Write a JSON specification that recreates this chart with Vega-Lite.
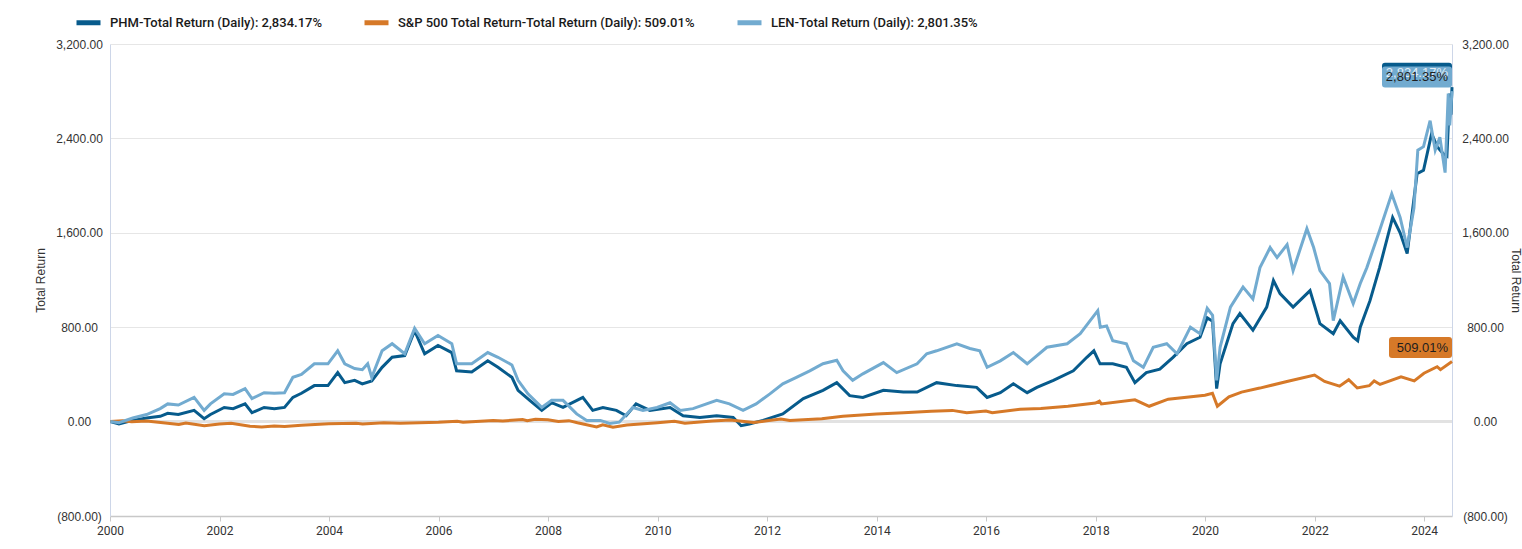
{
  "$schema": "https://vega.github.io/schema/vega-lite/v6.json",
  "width": 1342,
  "height": 472,
  "autosize": {"type": "none"},
  "padding": {"left": 110, "top": 44, "right": 70, "bottom": 33},
  "background": "white",
  "config": {
    "view": {"stroke": null},
    "font": "Roboto",
    "axis": {"labelColor": "#333333", "titleColor": "#333333", "labelFontSize": 12, "titleFontSize": 12, "titleFontWeight": "normal"},
    "axisX": {"format": "%Y", "tickCount": {"interval": "year", "step": 2}, "grid": false, "domainColor": "#c8c8c8", "domainWidth": 1.5, "tickColor": "#c8c8c8", "tickSize": 5, "labelPadding": 4, "labelFlush": false, "title": null}
  },
  "datasets": {
    "phm": [
      {"d":"2000-01-03","v":0},{"d":"2000-03-01","v":-20},{"d":"2000-06-01","v":10},{"d":"2000-09-01","v":30},{"d":"2000-12-01","v":45},
      {"d":"2001-01-20","v":70},{"d":"2001-04-01","v":60},{"d":"2001-07-15","v":95},{"d":"2001-09-20","v":25},{"d":"2001-11-01","v":60},
      {"d":"2002-02-01","v":120},{"d":"2002-04-01","v":110},{"d":"2002-06-20","v":150},{"d":"2002-08-05","v":75},{"d":"2002-10-25","v":120},
      {"d":"2003-01-01","v":110},{"d":"2003-03-10","v":120},{"d":"2003-05-05","v":205},{"d":"2003-07-01","v":240},{"d":"2003-09-25","v":305},{"d":"2003-12-25","v":305},
      {"d":"2004-02-28","v":415},{"d":"2004-04-15","v":330},{"d":"2004-06-20","v":350},{"d":"2004-08-10","v":320},{"d":"2004-10-12","v":345},{"d":"2004-12-20","v":460},
      {"d":"2005-02-25","v":545},{"d":"2005-05-20","v":560},{"d":"2005-07-25","v":770},{"d":"2005-09-30","v":575},{"d":"2005-12-28","v":645},
      {"d":"2006-03-30","v":585},{"d":"2006-05-01","v":430},{"d":"2006-08-10","v":420},{"d":"2006-11-25","v":515},
      {"d":"2007-02-01","v":460},{"d":"2007-05-05","v":375},{"d":"2007-06-15","v":265},{"d":"2007-09-01","v":180},{"d":"2007-11-20","v":95},
      {"d":"2008-01-25","v":160},{"d":"2008-04-10","v":120},{"d":"2008-08-20","v":205},{"d":"2008-10-25","v":95},
      {"d":"2009-01-01","v":120},{"d":"2009-04-01","v":95},{"d":"2009-06-05","v":50},{"d":"2009-08-10","v":150},{"d":"2009-11-10","v":95},
      {"d":"2010-03-25","v":120},{"d":"2010-06-20","v":50},{"d":"2010-10-10","v":35},
      {"d":"2011-01-30","v":50},{"d":"2011-05-20","v":35},{"d":"2011-07-12","v":-35},{"d":"2011-09-05","v":-20},{"d":"2011-12-05","v":10},
      {"d":"2012-04-15","v":65},{"d":"2012-08-30","v":195},
      {"d":"2013-01-08","v":265},{"d":"2013-04-10","v":330},{"d":"2013-07-05","v":220},{"d":"2013-10-01","v":205},
      {"d":"2014-02-15","v":265},{"d":"2014-06-28","v":250},{"d":"2014-09-28","v":250},
      {"d":"2015-02-05","v":330},{"d":"2015-06-20","v":305},{"d":"2015-10-30","v":290},
      {"d":"2016-01-08","v":205},{"d":"2016-04-05","v":245},{"d":"2016-07-01","v":320},{"d":"2016-10-01","v":245},{"d":"2016-12-05","v":290},
      {"d":"2017-03-25","v":350},{"d":"2017-08-05","v":430},{"d":"2017-11-03","v":545},{"d":"2017-12-20","v":600},
      {"d":"2018-01-30","v":490},{"d":"2018-04-25","v":490},{"d":"2018-07-25","v":460},{"d":"2018-09-20","v":330},{"d":"2018-12-05","v":415},
      {"d":"2019-03-05","v":445},{"d":"2019-06-01","v":545},{"d":"2019-09-01","v":660},{"d":"2019-11-28","v":715},
      {"d":"2020-01-15","v":880},{"d":"2020-02-20","v":850},{"d":"2020-03-18","v":280},{"d":"2020-04-10","v":490},{"d":"2020-07-05","v":830},{"d":"2020-08-20","v":915},{"d":"2020-11-15","v":775},
      {"d":"2021-02-15","v":970},{"d":"2021-04-01","v":1195},{"d":"2021-05-15","v":1085},{"d":"2021-08-10","v":970},{"d":"2021-12-01","v":1110},
      {"d":"2022-02-05","v":830},{"d":"2022-05-05","v":745},{"d":"2022-06-20","v":855},{"d":"2022-09-15","v":715},{"d":"2022-10-15","v":685},{"d":"2022-11-01","v":800},
      {"d":"2023-01-05","v":1025},{"d":"2023-03-10","v":1305},{"d":"2023-06-05","v":1730},{"d":"2023-07-25","v":1600},{"d":"2023-09-10","v":1425},{"d":"2023-11-15","v":2100},{"d":"2023-12-28","v":2130},
      {"d":"2024-02-20","v":2440},{"d":"2024-03-28","v":2330},{"d":"2024-05-08","v":2270},{"d":"2024-06-01","v":2250},{"d":"2024-06-20","v":2780},{"d":"2024-06-28","v":2600},{"d":"2024-07-05","v":2834.17}
    ],
    "len": [
      {"d":"2000-01-03","v":0},{"d":"2000-03-01","v":-10},{"d":"2000-06-01","v":30},{"d":"2000-09-01","v":60},{"d":"2000-12-01","v":110},
      {"d":"2001-01-20","v":150},{"d":"2001-04-01","v":140},{"d":"2001-07-15","v":205},{"d":"2001-09-20","v":95},{"d":"2001-11-01","v":150},
      {"d":"2002-02-01","v":235},{"d":"2002-04-01","v":230},{"d":"2002-06-20","v":280},{"d":"2002-08-05","v":195},{"d":"2002-10-25","v":245},
      {"d":"2003-01-01","v":240},{"d":"2003-03-10","v":245},{"d":"2003-05-05","v":375},{"d":"2003-07-01","v":400},{"d":"2003-09-25","v":490},{"d":"2003-12-25","v":490},
      {"d":"2004-02-28","v":600},{"d":"2004-04-15","v":490},{"d":"2004-06-20","v":450},{"d":"2004-08-10","v":440},{"d":"2004-09-15","v":490},{"d":"2004-10-12","v":375},{"d":"2004-12-20","v":600},
      {"d":"2005-02-25","v":660},{"d":"2005-05-20","v":575},{"d":"2005-07-25","v":790},{"d":"2005-09-30","v":660},{"d":"2005-12-28","v":730},
      {"d":"2006-03-30","v":660},{"d":"2006-05-01","v":490},{"d":"2006-08-10","v":490},{"d":"2006-11-25","v":585},
      {"d":"2007-02-01","v":545},{"d":"2007-05-05","v":480},{"d":"2007-06-15","v":350},{"d":"2007-08-20","v":235},{"d":"2007-11-20","v":120},
      {"d":"2008-01-25","v":180},{"d":"2008-04-10","v":180},{"d":"2008-07-10","v":65},{"d":"2008-09-15","v":10},{"d":"2008-12-15","v":10},
      {"d":"2009-02-15","v":-15},{"d":"2009-04-20","v":-5},{"d":"2009-07-20","v":120},{"d":"2009-09-25","v":95},{"d":"2009-12-28","v":120},
      {"d":"2010-03-25","v":160},{"d":"2010-06-01","v":95},{"d":"2010-08-25","v":110},
      {"d":"2011-01-30","v":180},{"d":"2011-04-25","v":150},{"d":"2011-07-25","v":95},{"d":"2011-10-20","v":150},
      {"d":"2012-01-20","v":235},{"d":"2012-04-15","v":320},{"d":"2012-07-15","v":375},{"d":"2012-10-12","v":430},
      {"d":"2013-01-08","v":490},{"d":"2013-04-10","v":520},{"d":"2013-05-22","v":430},{"d":"2013-07-25","v":350},{"d":"2013-10-01","v":405},
      {"d":"2014-02-15","v":500},{"d":"2014-05-15","v":415},{"d":"2014-09-28","v":490},{"d":"2014-12-01","v":575},
      {"d":"2015-02-05","v":600},{"d":"2015-06-20","v":660},{"d":"2015-09-15","v":620},{"d":"2015-11-20","v":600},
      {"d":"2016-01-08","v":460},{"d":"2016-04-05","v":515},{"d":"2016-07-01","v":585},{"d":"2016-10-01","v":490},
      {"d":"2017-02-10","v":630},{"d":"2017-06-25","v":660},{"d":"2017-09-20","v":745},
      {"d":"2018-01-15","v":940},{"d":"2018-02-01","v":800},{"d":"2018-03-15","v":810},{"d":"2018-04-25","v":685},{"d":"2018-07-25","v":660},{"d":"2018-09-10","v":515},{"d":"2018-11-15","v":460},
      {"d":"2019-01-20","v":630},{"d":"2019-04-20","v":660},{"d":"2019-06-28","v":575},{"d":"2019-09-25","v":800},{"d":"2019-11-28","v":745},
      {"d":"2020-01-15","v":960},{"d":"2020-02-20","v":900},{"d":"2020-03-18","v":350},{"d":"2020-04-10","v":630},{"d":"2020-06-18","v":970},{"d":"2020-09-10","v":1140},{"d":"2020-11-15","v":1040},
      {"d":"2021-01-01","v":1305},{"d":"2021-03-10","v":1475},{"d":"2021-04-25","v":1390},{"d":"2021-07-01","v":1500},{"d":"2021-08-10","v":1280},{"d":"2021-11-10","v":1635},{"d":"2021-12-25","v":1475},
      {"d":"2022-02-05","v":1280},{"d":"2022-04-10","v":1170},{"d":"2022-05-05","v":855},{"d":"2022-07-10","v":1225},{"d":"2022-09-15","v":1000},{"d":"2022-11-01","v":1170},{"d":"2022-12-15","v":1305},
      {"d":"2023-03-10","v":1620},{"d":"2023-05-30","v":1930},{"d":"2023-07-25","v":1730},{"d":"2023-09-10","v":1475},{"d":"2023-10-25","v":1810},{"d":"2023-11-20","v":2300},{"d":"2023-12-28","v":2330},
      {"d":"2024-02-10","v":2550},{"d":"2024-03-15","v":2300},{"d":"2024-04-15","v":2410},{"d":"2024-05-20","v":2110},{"d":"2024-06-10","v":2780},{"d":"2024-06-20","v":2510},{"d":"2024-07-05","v":2801.35}
    ],
    "sp": [
      {"d":"2000-01-03","v":0},{"d":"2000-03-24","v":8},{"d":"2000-05-25","v":-2},{"d":"2000-09-01","v":5},{"d":"2000-12-20","v":-10},
      {"d":"2001-04-04","v":-25},{"d":"2001-05-21","v":-12},{"d":"2001-09-21","v":-35},{"d":"2001-12-31","v":-20},
      {"d":"2002-03-19","v":-15},{"d":"2002-07-23","v":-40},{"d":"2002-10-09","v":-45},{"d":"2002-12-31","v":-37},
      {"d":"2003-03-11","v":-42},{"d":"2003-06-30","v":-30},{"d":"2003-12-31","v":-19},
      {"d":"2004-06-30","v":-15},{"d":"2004-08-12","v":-20},{"d":"2004-12-31","v":-10},
      {"d":"2005-04-20","v":-15},{"d":"2005-12-31","v":-6},
      {"d":"2006-05-05","v":2},{"d":"2006-06-13","v":-5},{"d":"2006-12-31","v":9},
      {"d":"2007-03-05","v":5},{"d":"2007-07-15","v":18},{"d":"2007-08-15","v":8},{"d":"2007-10-09","v":20},{"d":"2007-12-31","v":15},
      {"d":"2008-03-10","v":0},{"d":"2008-05-19","v":8},{"d":"2008-07-15","v":-10},{"d":"2008-11-20","v":-45},{"d":"2008-12-31","v":-28},
      {"d":"2009-03-09","v":-48},{"d":"2009-06-10","v":-28},{"d":"2009-12-31","v":-9},
      {"d":"2010-04-23","v":2},{"d":"2010-07-02","v":-14},{"d":"2010-12-31","v":5},
      {"d":"2011-04-29","v":14},{"d":"2011-10-03","v":-8},{"d":"2011-12-31","v":7},
      {"d":"2012-04-02","v":22},{"d":"2012-06-01","v":10},{"d":"2012-12-31","v":24},
      {"d":"2013-05-21","v":45},{"d":"2013-12-31","v":64},
      {"d":"2014-06-30","v":75},{"d":"2014-12-31","v":87},
      {"d":"2015-05-21","v":95},{"d":"2015-08-25","v":75},{"d":"2015-12-31","v":89},
      {"d":"2016-02-11","v":75},{"d":"2016-08-15","v":105},{"d":"2016-12-31","v":111},
      {"d":"2017-06-30","v":130},{"d":"2017-12-31","v":157},
      {"d":"2018-01-26","v":173},{"d":"2018-02-08","v":150},{"d":"2018-09-20","v":185},{"d":"2018-12-24","v":130},
      {"d":"2019-04-30","v":190},{"d":"2019-12-31","v":224},
      {"d":"2020-02-19","v":240},{"d":"2020-03-23","v":130},{"d":"2020-06-08","v":210},{"d":"2020-08-31","v":250},{"d":"2020-12-31","v":284},
      {"d":"2021-06-30","v":340},{"d":"2021-12-31","v":394},
      {"d":"2022-03-08","v":340},{"d":"2022-06-16","v":300},{"d":"2022-08-16","v":355},{"d":"2022-10-12","v":285},{"d":"2022-12-31","v":304},
      {"d":"2023-02-02","v":345},{"d":"2023-03-13","v":315},{"d":"2023-07-31","v":380},{"d":"2023-10-27","v":345},{"d":"2023-12-31","v":410},
      {"d":"2024-03-28","v":465},{"d":"2024-04-19","v":440},{"d":"2024-07-05","v":509.01}
    ],
    "ends": [
      {"s":"PHM","d":"2024-07-05","v":2834.17,"t":"2,834.17%"},
      {"s":"S&P 500","d":"2024-07-05","v":509.01,"t":"509.01%"},
      {"s":"LEN","d":"2024-07-05","v":2801.35,"t":"2,801.35%"}
    ]
  },
  "layer": [
    {
      "data": {"name": "sp"},
      "mark": {"type": "rule", "color": "#e2e2e2", "strokeWidth": 2},
      "encoding": {
        "y": {"datum": 0, "type": "quantitative", "scale": {"domain": [-800, 3200], "nice": false, "zero": false}, "axis": null}
      }
    },
    {
      "data": {"name": "phm"},
      "mark": {"type": "line", "strokeWidth": 3},
      "encoding": {
        "x": {"field": "d", "type": "temporal", "title": null,
          "scale": {"domain": ["2000-01-01", "2024-07-05"]}},
        "y": {"field": "v", "type": "quantitative", "title": "Total Return",
          "scale": {"domain": [-800, 3200], "nice": false, "zero": false},
          "axis": {"orient": "left", "values": [-800, 0, 800, 1600, 2400, 3200], "labelExpr": "datum.value < 0 ? '(' + format(-datum.value, ',.2f') + ')' : format(datum.value, ',.2f')", "labelFont": "Liberation Sans", "titleFont": "Liberation Sans", "labelAlign": "center", "labelPadding": 31, "ticks": false, "tickSize": 0, "grid": true, "gridColor": "#e6e6e6", "domainColor": "#cdd6e8", "titlePadding": 8}},
        "color": {"datum": "PHM", "type": "nominal",
          "scale": {"domain": ["PHM", "S&P 500", "LEN"], "range": ["#075b8c", "#d67928", "#72abd0"]},
          "legend": {"orient": "none", "legendX": -36, "legendY": -36, "direction": "horizontal", "title": null,
            "symbolType": "stroke", "symbolStrokeWidth": 5, "symbolSize": 576, "labelFontSize": 13, "labelFontWeight": 500, "labelColor": "#1a1a1a", "labelLimit": 0, "columnPadding": 32, "labelOffset": 7,
            "labelExpr": "datum.label == 'PHM' ? 'PHM-Total Return (Daily): 2,834.17%' : datum.label == 'LEN' ? 'LEN-Total Return (Daily): 2,801.35%' : 'S&P 500 Total Return-Total Return (Daily): 509.01%'"}}
      }
    },
    {
      "data": {"name": "sp"},
      "mark": {"type": "line", "strokeWidth": 3},
      "encoding": {
        "x": {"field": "d", "type": "temporal", "title": null},
        "y": {"field": "v", "type": "quantitative", "scale": {"domain": [-800, 3200], "nice": false, "zero": false}, "axis": null},
        "color": {"datum": "S&P 500", "type": "nominal"}
      }
    },
    {
      "data": {"name": "len"},
      "mark": {"type": "line", "strokeWidth": 3},
      "encoding": {
        "x": {"field": "d", "type": "temporal", "title": null},
        "y": {"field": "v", "type": "quantitative", "scale": {"domain": [-800, 3200], "nice": false, "zero": false}, "axis": null},
        "color": {"datum": "LEN", "type": "nominal"}
      }
    },
    {
      "data": {"name": "ends"},
      "mark": {"type": "point", "filled": true, "opacity": 1, "size": 1225, "xOffset": -35, "yOffset": -14, "strokeWidth": 0},
      "encoding": {
        "x": {"field": "d", "type": "temporal", "title": null},
        "y": {"field": "v", "type": "quantitative", "scale": {"domain": [-800, 3200], "nice": false, "zero": false}, "axis": null},
        "fill": {"field": "s", "type": "nominal", "legend": null,
          "scale": {"domain": ["PHM", "S&P 500", "LEN"], "range": ["#075b8c", "#d67928", "#72abd0"]}},
        "shape": {"field": "s", "type": "nominal", "legend": null,
          "scale": {"domain": ["PHM", "S&P 500", "LEN"], "range": [
            "M-1.829,-0.6L1.829,-0.6Q2,-0.6 2,-0.429L2,0.429Q2,0.6 1.829,0.6L-1.829,0.6Q-2,0.6 -2,0.429L-2,-0.429Q-2,-0.6 -1.829,-0.6Z",
            "M-1.429,-0.6L1.829,-0.6Q2,-0.6 2,-0.429L2,0.429Q2,0.6 1.829,0.6L-1.429,0.6Q-1.6,0.6 -1.6,0.429L-1.6,-0.429Q-1.6,-0.6 -1.429,-0.6Z",
            "M-1.829,-0.6L1.829,-0.6Q2,-0.6 2,-0.429L2,0.429Q2,0.6 1.829,0.6L-1.829,0.6Q-2,0.6 -2,0.429L-2,-0.429Q-2,-0.6 -1.829,-0.6Z"
          ]}}
      }
    },
    {
      "data": {"name": "ends"},
      "transform": [{"filter": "datum.s == 'PHM'"}],
      "mark": {"type": "text", "align": "right", "baseline": "middle", "xOffset": -4, "yOffset": -14, "font": "Liberation Sans", "fontSize": 13, "color": "#e4eef6"},
      "encoding": {
        "x": {"field": "d", "type": "temporal", "title": null},
        "y": {"field": "v", "type": "quantitative", "scale": {"domain": [-800, 3200], "nice": false, "zero": false}, "axis": null},
        "text": {"field": "t"}
      }
    },
    {
      "data": {"name": "ends"},
      "transform": [{"filter": "datum.s != 'PHM'"}],
      "mark": {"type": "text", "align": "right", "baseline": "middle", "xOffset": -4, "yOffset": -14, "font": "Liberation Sans", "fontSize": 13, "color": "#1e1e1e"},
      "encoding": {
        "x": {"field": "d", "type": "temporal", "title": null},
        "y": {"field": "v", "type": "quantitative", "title": "Total Return",
          "scale": {"domain": [-800, 3200], "nice": false, "zero": false},
          "axis": {"orient": "right", "values": [-800, 0, 800, 1600, 2400, 3200], "labelExpr": "datum.value < 0 ? '(' + format(-datum.value, ',.2f') + ')' : format(datum.value, ',.2f')", "labelFont": "Liberation Sans", "titleFont": "Liberation Sans", "labelAlign": "center", "labelPadding": 33, "ticks": false, "tickSize": 0, "grid": false, "domainColor": "#cdd6e8", "titlePadding": 0}},
        "text": {"field": "t"}
      }
    }
  ],
  "resolve": {"scale": {"fill": "independent", "shape": "independent"}, "axis": {"y": "independent"}}
}
